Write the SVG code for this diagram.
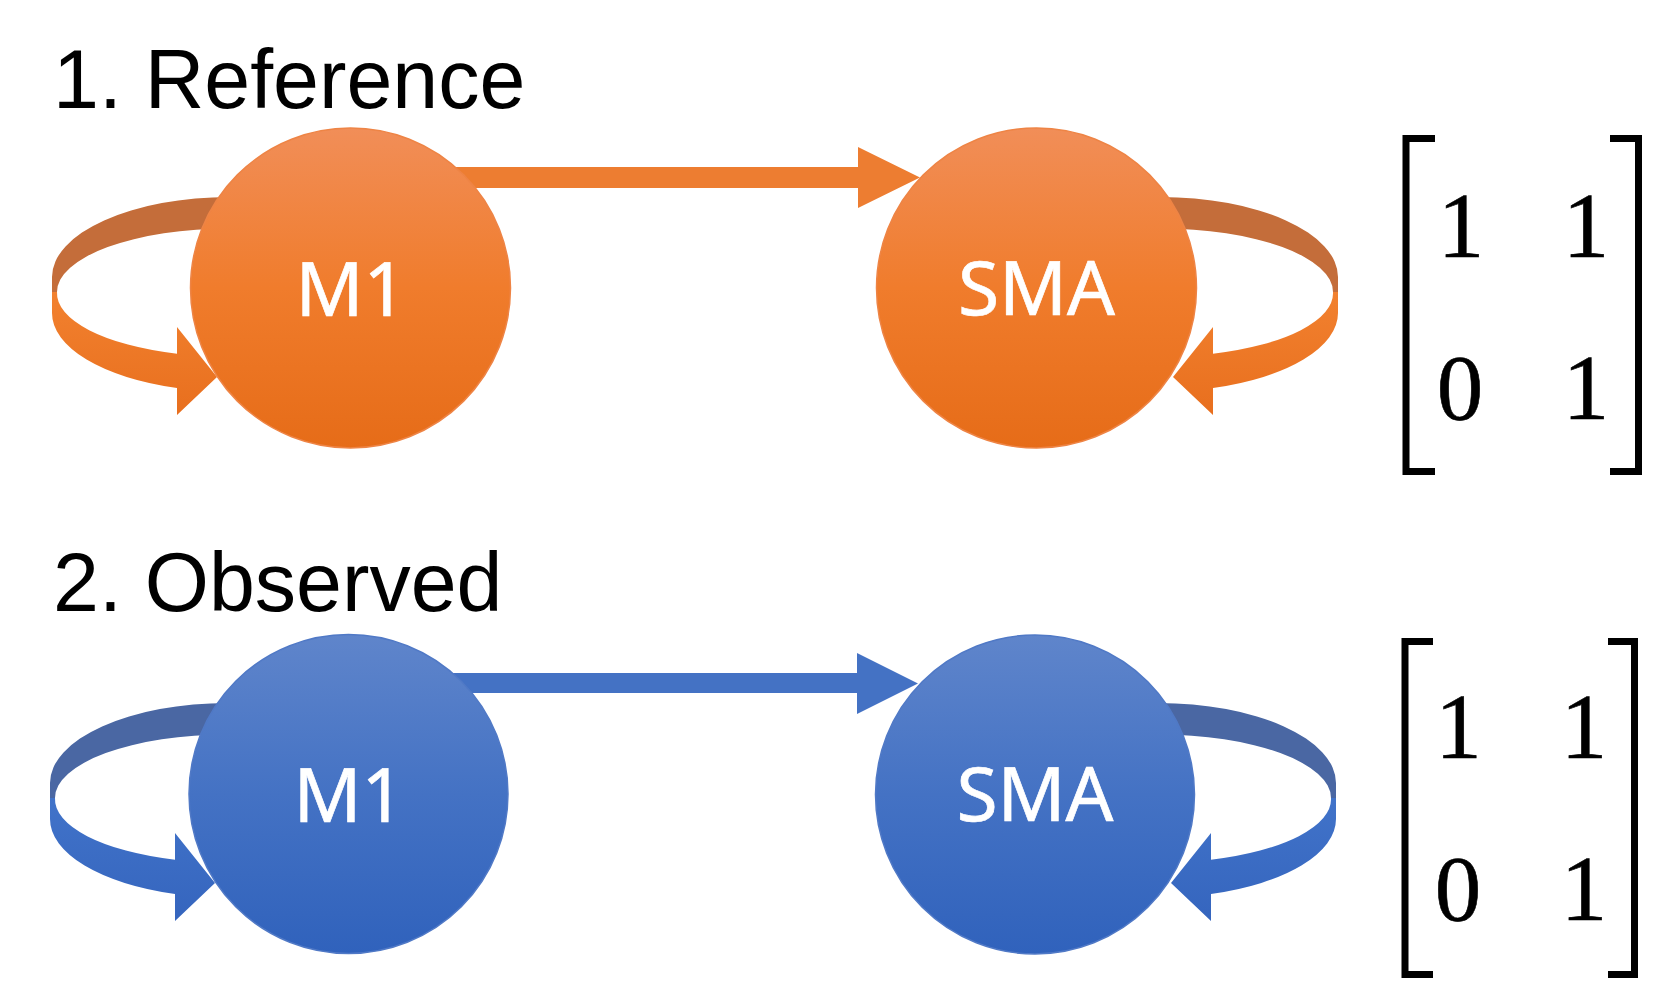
<svg xmlns="http://www.w3.org/2000/svg" xmlns:xlink="http://www.w3.org/1999/xlink" width="1663" height="1003" viewBox="0 0 1663 1003">
<style>
.title{font-family:"Liberation Sans",Arial,sans-serif;font-size:82.5px;fill:#000}
.lbl{font-family:"Noto Sans","Open Sans",sans-serif;font-size:75px;fill:#fff;stroke:#fff;stroke-width:0.7;text-anchor:middle}
.mat{font-family:"Liberation Serif","Times New Roman",serif;font-size:93px;fill:#000;stroke:#000;stroke-width:0.6;text-anchor:middle}
.br{fill:none;stroke:#000;stroke-width:7;stroke-linecap:butt}
.o-back{fill:#C46D3A}
.o-front{fill:url(#oFront)}
.o-bar{fill:#ED7D31}
.o-node{fill:url(#oCircle);stroke:#EE8445;stroke-width:1.5}
.b-back{fill:#4A67A3}
.b-front{fill:url(#bFront)}
.b-bar{fill:#4472C4}
.b-node{fill:url(#bCircle);stroke:#5079C6;stroke-width:1.5}
</style>
<defs>
<linearGradient id="oCircle" x1="0" y1="0" x2="0" y2="1">
<stop offset="0" stop-color="#F18E58"/>
<stop offset="0.5" stop-color="#F07C2C"/>
<stop offset="1" stop-color="#E66C18"/>
</linearGradient>
<linearGradient id="bCircle" x1="0" y1="0" x2="0" y2="1">
<stop offset="0" stop-color="#5F85CB"/>
<stop offset="0.5" stop-color="#4472C4"/>
<stop offset="1" stop-color="#3062BC"/>
</linearGradient>
<linearGradient id="oFront" x1="0" y1="0" x2="0" y2="1">
<stop offset="0" stop-color="#F2812F"/>
<stop offset="1" stop-color="#E86F1E"/>
</linearGradient>
<linearGradient id="bFront" x1="0" y1="0" x2="0" y2="1">
<stop offset="0" stop-color="#4173C9"/>
<stop offset="1" stop-color="#3565BE"/>
</linearGradient>
<path id="loopBack" d="M52,277 A178,80 0 0 1 230,197 L230,228.5 A173,63.5 0 0 0 57,292 L52,292 Z"/>
<path id="loopFront" d="M57,292 A173,63.5 0 0 0 177,353.7 L177,327 L217,377 L177,415 L177,388 A178,78.5 0 0 1 52,313 L52,292 Z"/>
</defs>

<g id="titles">
<text class="title" x="53" y="108">1. Reference</text>
<text class="title" x="53" y="611">2. Observed</text>
</g>

<g id="connectors">
<g id="ref-m1-self">
<use xlink:href="#loopBack" class="o-back"/>
<use xlink:href="#loopFront" class="o-front"/>
</g>
<g id="ref-sma-self" transform="translate(1390,0) scale(-1,1)">
<use xlink:href="#loopBack" class="o-back"/>
<use xlink:href="#loopFront" class="o-front"/>
</g>
<polygon id="ref-m1-sma" class="o-bar" points="350,167 858,167 858,147 920,177.5 858,208 858,188 350,188"/>
<g id="obs-m1-self" transform="translate(-2,506)">
<use xlink:href="#loopBack" class="b-back"/>
<use xlink:href="#loopFront" class="b-front"/>
</g>
<g id="obs-sma-self" transform="translate(1388,506) scale(-1,1)">
<use xlink:href="#loopBack" class="b-back"/>
<use xlink:href="#loopFront" class="b-front"/>
</g>
<polygon id="obs-m1-sma" class="b-bar" points="350,673 857,673 857,653 918,683.5 857,714 857,693 350,693"/>
</g>

<g id="node-ref-m1">
<circle class="o-node" cx="350.5" cy="288" r="160"/>
<text class="lbl" x="351" y="316">M1</text>
</g>
<g id="node-ref-sma">
<circle class="o-node" cx="1036.5" cy="288" r="160"/>
<text class="lbl" x="1036.5" y="315">SMA</text>
</g>
<g id="node-obs-m1">
<circle class="b-node" cx="348.5" cy="794" r="159.5"/>
<text class="lbl" x="349" y="822">M1</text>
</g>
<g id="node-obs-sma">
<circle class="b-node" cx="1035" cy="794.5" r="159.5"/>
<text class="lbl" x="1035" y="821">SMA</text>
</g>

<g id="matrix-ref">
<path class="br" d="M1435,138.5 H1406 V471.5 H1435"/>
<path class="br" d="M1610,138.5 H1638.5 V471.5 H1610"/>
<text class="mat" x="1461" y="257">1</text>
<text class="mat" x="1586" y="257">1</text>
<text class="mat" x="1460" y="419">0</text>
<text class="mat" x="1586" y="419">1</text>
</g>
<g id="matrix-obs">
<path class="br" d="M1433,641.5 H1405 V974.5 H1433"/>
<path class="br" d="M1608,641.5 H1634.5 V974.5 H1608"/>
<text class="mat" x="1458.5" y="758">1</text>
<text class="mat" x="1584" y="758">1</text>
<text class="mat" x="1458" y="920">0</text>
<text class="mat" x="1584" y="920">1</text>
</g>
</svg>
